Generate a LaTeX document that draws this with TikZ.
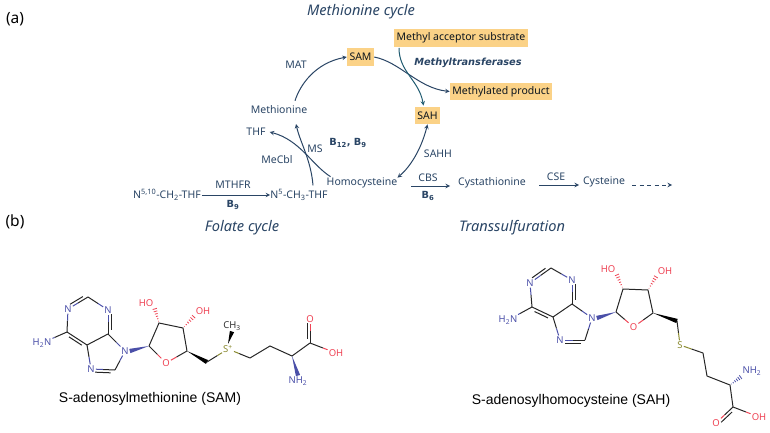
\documentclass[tikz,border=0pt]{standalone}
\usepackage{amsmath}
\usepackage{xcolor}
\usepackage{fontspec}
\setmainfont{Noto Sans}
\newfontfamily\captionfont{Liberation Sans}
\newfontfamily\cofactorfont{DejaVu Sans}
\usetikzlibrary{calc}
\definecolor{pathblue}{HTML}{2A4565}
\definecolor{boxorange}{HTML}{FBD287}
\definecolor{tealarrow}{HTML}{1F5A70}
\definecolor{atomblue}{HTML}{4A4FA8}
\definecolor{atomred}{HTML}{EE4455}
\definecolor{atomolive}{HTML}{8A8A30}
\tikzset{
  txt/.style={text=pathblue,font=\fontsize{10.5}{12}\selectfont,inner sep=0pt},
  bigtxt/.style={text=pathblue,font=\fontsize{14.6}{16}\selectfont\itshape,inner sep=0pt},
  cof/.style={text=pathblue,font=\cofactorfont\fontsize{9.8}{12}\selectfont\bfseries,inner sep=0pt},
  hl/.style={txt,fill=boxorange,text=black!70!pathblue,minimum height=17.5pt,inner xsep=2.5pt},
  path arrow/.style={->,>=stealth,line width=1pt,draw=pathblue},
  atom/.style={font=\fontsize{9.5}{10}\selectfont,inner sep=1pt},
  bond/.style={line width=1pt,black!85},
}
% half coloured bond, atom label at the far end
\newcommand{\hbond}[3]{
  \draw[bond] (#1) -- ($(#1)!0.5!(#2)$);
  \draw[bond,#3] ($(#1)!0.5!(#2)$) -- (#2);
}
% second line of a double bond
\newcommand{\dbond}[3]{
  \draw[bond] ($(#1)!0.18!(#2)!#3!90:(#2)$) -- ($(#2)!0.18!(#1)!-#3!90:(#1)$);
}
\newcommand{\wedgebond}[3]{
  \fill[#3] ($(#1)!2.2pt!90:(#2)$) -- ($(#1)!2.2pt!-90:(#2)$) -- (#2) -- cycle;
}
\newcommand{\hashbond}[3]{
  \foreach \t in {0.08,0.24,0.40,0.56,0.72,0.88}{
    \draw[line width=0.8pt,#3] ($($(#2)!\t!(#1)$)!{(1-\t)*2.4pt}!90:(#1)$) -- ($($(#2)!\t!(#1)$)!{(1-\t)*2.4pt}!-90:(#1)$);
  }
}
\begin{document}
\begin{tikzpicture}[x=1pt,y=-1pt]
\useasboundingbox (0,0) rectangle (770,433);

% panel letters
\draw (15,19) node (panela) [font=\fontsize{15.5}{17}\selectfont,inner sep=0pt] {(a)};
\draw (15,222) node (panelb) [font=\fontsize{15.5}{17}\selectfont,inner sep=0pt] {(b)};

% cycle titles
\draw (361,12) node (metcycle) [bigtxt] {Methionine cycle};
\draw (242,228) node (folcycle) [bigtxt] {Folate cycle};
\draw (512,228) node (transsulf) [bigtxt] {Transsulfuration};

% metabolites
\draw (360.5,57) node (sam) [hl] {SAM};
\draw (461,38) node (acceptor) [hl] {Methyl acceptor substrate};
\draw (501,91.5) node (product) [hl] {Methylated product};
\draw (427.5,115.5) node (sah) [hl] {SAH};
\draw (279,110) node (met) [txt] {Methionine};
\draw (256,132) node (thf) [txt] {THF};
\draw (362,183) node (hcy) [txt] {Homocysteine};
\draw (299,195) node (nmethyl) [txt] {N\textsuperscript{5}-CH\textsubscript{3}-THF};
\draw (167,195) node (nmethylene) [txt] {N\textsuperscript{5,10}-CH\textsubscript{2}-THF};
\draw (492,183) node (cysta) [txt] {Cystathionine};
\draw (604,182) node (cys) [txt] {Cysteine};
\coordinate (dashend) at (672,185);

% enzymes
\draw (296,65) node (mat) [txt] {MAT};
\draw (315,149) node (ms) [txt] {MS};
\draw (277,160) node (mecbl) [txt] {MeCbl};
\draw (233,185) node (mthfr) [txt] {MTHFR};
\draw (438,154) node (sahh) [txt] {SAHH};
\draw (428,178) node (cbs) [txt] {CBS};
\draw (556,177) node (cse) [txt] {CSE};
\draw (468,63) node (mtase) [cof,font=\cofactorfont\fontsize{9.8}{12}\selectfont\bfseries\itshape] {Methyltransferases};

% cofactors
\draw (348,143) node (bvit) [cof] {B\textsubscript{12}, B\textsubscript{9}};
\draw (233,205) node (bnine) [cof] {B\textsubscript{9}};
\draw (428,196) node (bsix) [cof] {B\textsubscript{6}};

% cycle arrows
\draw[path arrow] (met.north)+(16,-5) .. controls (300,85) and (315,63) .. (sam.west);
\draw[path arrow] (nmethyl.north)+(14,-4) .. controls (311,160) and (300,142) .. (296,124);
\draw[path arrow] (hcy.north west)+(4,-1) .. controls (312,165) and (300,140) .. ($(thf.east)+(4,0)$);
\draw[<->,>=stealth,line width=1pt,draw=pathblue] (sah.south) .. controls (421,150) and (410,167) .. (hcy.north east);
\draw[path arrow] (sam.east) .. controls (400,62) and (418,88) .. (product.west);
\draw[->,>=stealth,line width=1pt,draw=tealarrow] (acceptor.south west)+(5,1) .. controls (399,72) and (419,80) .. ($(sah.north)+(-4,-1)$);

% straight arrows
\draw[path arrow] (nmethylene.east)+(1,0) -- (nmethyl.west);
\draw[path arrow] (411,186) -- (450,186);
\draw[path arrow] (539,185) -- (579,185);
\draw[path arrow,dash pattern=on 4pt off 3.5pt] (cys.east)+(7,3) -- (dashend);

% SAM purine ring
\draw (68,309) node (an1) [atom,atomblue] {N};
\coordinate (ac2) at (88,297);
\draw (108,310) node (an3) [atom,atomblue] {N};
\coordinate (ac4) at (108,334);
\coordinate (ac5) at (87,345);
\coordinate (ac6) at (67,332);
\draw (125,351) node (an9) [atom,atomblue] {N};
\coordinate (ac8) at (115,370);
\draw (91,369) node (an7) [atom,atomblue] {N};
\draw (42,343) node (anh) [atom,atomblue] {H\textsubscript{2}N};
\hbond{ac6}{an1}{atomblue} \hbond{ac2}{an1}{atomblue} \hbond{ac2}{an3}{atomblue} \hbond{ac4}{an3}{atomblue}
\hbond{ac4}{an9}{atomblue} \hbond{ac8}{an9}{atomblue} \hbond{ac8}{an7}{atomblue} \hbond{ac5}{an7}{atomblue}
\hbond{ac6}{anh}{atomblue}
\draw[bond] (ac4) -- (ac5) (ac5) -- (ac6);
\dbond{ac2}{an1}{-3pt} \dbond{ac4}{an3}{-3pt} \dbond{ac5}{ac6}{3pt} \dbond{ac8}{an7}{3pt}

% SAM ribose
\coordinate (ar1) at (149,346);
\coordinate (ar2) at (159,323);
\coordinate (ar3) at (183,328);
\coordinate (ar4) at (187,351);
\draw (166,363) node (aro) [atom,atomred] {O};
\draw (146,303) node (aho) [atom,atomred] {HO};
\draw (203,311) node (aoh) [atom,atomred] {OH};
\draw[bond] (ar1) -- (ar2) -- (ar3) -- (ar4);
\hbond{ar1}{aro}{atomred} \hbond{ar4}{aro}{atomred}
\wedgebond{an9.east}{ar1}{atomblue}
\hashbond{ar2}{aho.south east}{atomred}
\hashbond{ar3}{aoh.south west}{atomred}

% SAM tail
\coordinate (ach) at (207,362);
\draw (228,349) node (asu) [atom,atomolive] {S\textsuperscript{+}};
\draw (232,326) node (ame) [atom,black!80] {CH\textsubscript{3}};
\coordinate (at1) at (250,358);
\coordinate (at2) at (270,346);
\coordinate (at3) at (292,356);
\coordinate (at4) at (310,343);
\draw (310,319) node (aox) [atom,atomred] {O};
\draw (336,353) node (ahy) [atom,atomred] {OH};
\draw (298,381) node (anm) [atom,atomblue] {NH\textsubscript{2}};
\wedgebond{ach}{ar4}{black}
\hbond{ach}{asu}{atomolive} \hbond{at1}{asu}{atomolive}
\draw[bond] (at1) -- (at2) -- (at3) -- (at4);
\hbond{at4}{ahy}{atomred} \hbond{at4}{aox}{atomred}
\dbond{at4}{aox}{3pt}
\wedgebond{ame.south}{asu.north}{black}
\wedgebond{anm.north}{at3}{atomblue}

% SAH purine ring
\draw (530,283) node (bn1) [atom,atomblue] {N};
\coordinate (bc2) at (551,268);
\draw (572,280) node (bn3) [atom,atomblue] {N};
\coordinate (bc4) at (572,304);
\coordinate (bc5) at (553,317);
\coordinate (bc6) at (532,307);
\draw (592,318) node (bn9) [atom,atomblue] {N};
\coordinate (bc8) at (585,340);
\draw (560,340) node (bn7) [atom,atomblue] {N};
\draw (508,320) node (bnh) [atom,atomblue] {H\textsubscript{2}N};
\hbond{bc6}{bn1}{atomblue} \hbond{bc2}{bn1}{atomblue} \hbond{bc2}{bn3}{atomblue} \hbond{bc4}{bn3}{atomblue}
\hbond{bc4}{bn9}{atomblue} \hbond{bc8}{bn9}{atomblue} \hbond{bc8}{bn7}{atomblue} \hbond{bc5}{bn7}{atomblue}
\hbond{bc6}{bnh}{atomblue}
\draw[bond] (bc4) -- (bc5) (bc5) -- (bc6);
\dbond{bc2}{bn1}{-3pt} \dbond{bc4}{bn3}{-3pt} \dbond{bc5}{bc6}{3pt} \dbond{bc8}{bn7}{3pt}

% SAH ribose
\coordinate (br1) at (616,312);
\coordinate (br2) at (623,289);
\coordinate (br3) at (648,290);
\coordinate (br4) at (653,313);
\draw (633.5,327) node (bro) [atom,atomred] {O};
\draw (608,269) node (bho) [atom,atomred] {HO};
\draw (665,271) node (boh) [atom,atomred] {OH};
\draw[bond] (br1) -- (br2) -- (br3) -- (br4);
\hbond{br1}{bro}{atomred} \hbond{br4}{bro}{atomred}
\wedgebond{bn9.east}{br1}{atomblue}
\hashbond{br2}{bho.south east}{atomred}
\hashbond{br3}{boh.south west}{atomred}

% SAH tail
\coordinate (bch) at (677,321);
\draw (680,345) node (bsu) [atom,atomolive] {S};
\coordinate (bt1) at (703,353);
\coordinate (bt2) at (707,376);
\coordinate (bt3) at (730,385);
\coordinate (bt4) at (733,407);
\draw (752,371) node (bnm) [atom,atomblue] {NH\textsubscript{2}};
\draw (716,423) node (box) [atom,atomred] {O};
\draw (759,417) node (bhy) [atom,atomred] {OH};
\wedgebond{bch}{br4}{black}
\hbond{bch}{bsu}{atomolive} \hbond{bt1}{bsu}{atomolive}
\draw[bond] (bt1) -- (bt2) -- (bt3) -- (bt4);
\hbond{bt4}{bhy}{atomred} \hbond{bt4}{box}{atomred}
\dbond{bt4}{box}{3pt}
\hashbond{bt3}{bnm.south west}{atomblue}

% captions
\draw (150,399) node (samname) [font=\captionfont\fontsize{14}{16}\selectfont,inner sep=0pt] {S-adenosylmethionine (SAM)};
\draw (571,401) node (sahname) [font=\captionfont\fontsize{14}{16}\selectfont,inner sep=0pt] {S-adenosylhomocysteine (SAH)};
\end{tikzpicture}
\end{document}
